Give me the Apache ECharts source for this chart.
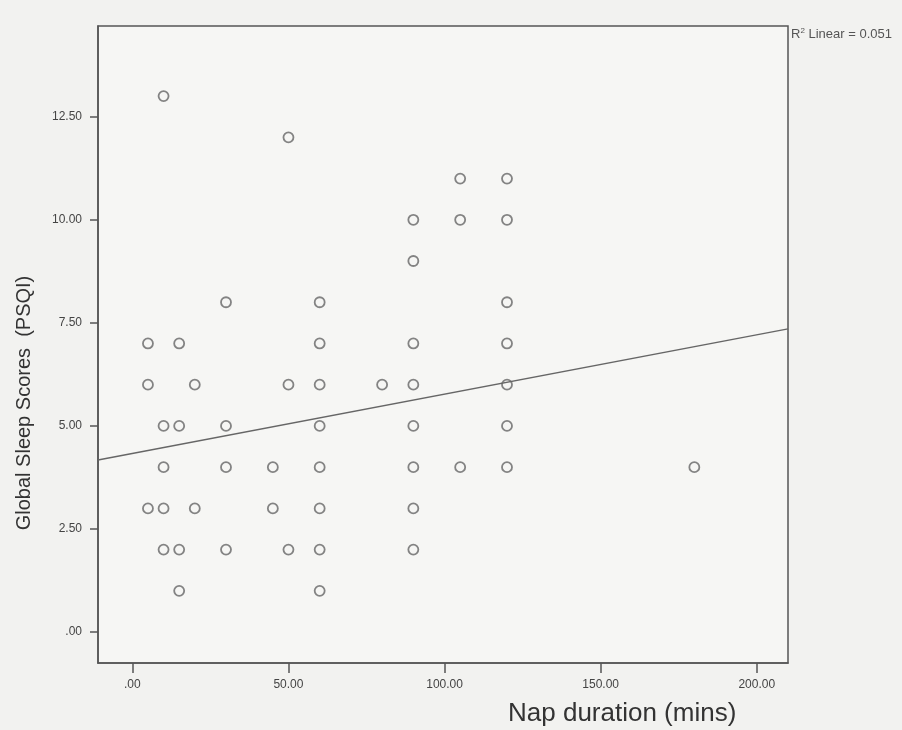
<!DOCTYPE html>
<html>
<head>
<meta charset="utf-8">
<script src="https://cdn.jsdelivr.net/npm/echarts@6/dist/echarts.min.js"></script>
<style>
  html, body { margin: 0; padding: 0; background: #f2f2f0; }
  #chart { width: 902px; height: 730px; }
</style>
</head>
<body>
<div id="chart"></div>
<script>
// nap duration (mins) and PSQI score, one entry per respondent
const napMins = [
  10,
  50,
  105, 120,
  90, 105, 120,
  90,
  30, 60, 120,
  5, 15, 60, 90, 120,
  5, 20, 50, 60, 80, 90, 120,
  10, 15, 30, 60, 90, 120,
  10, 30, 45, 60, 90, 105, 120, 180,
  5, 10, 20, 45, 60, 90,
  10, 15, 30, 50, 60, 90,
  15, 60
];
const psqiScores = [
  13,
  12,
  11, 11,
  10, 10, 10,
  9,
  8, 8, 8,
  7, 7, 7, 7, 7,
  6, 6, 6, 6, 6, 6, 6,
  5, 5, 5, 5, 5, 5,
  4, 4, 4, 4, 4, 4, 4, 4,
  3, 3, 3, 3, 3, 3,
  2, 2, 2, 2, 2, 2,
  1, 1
];
const xTicks = [0, 50, 100, 150, 200];
const yTicks = [0, 2.5, 5, 7.5, 10, 12.5];

// fitted linear line
const fitIntercept = 4.33;
const fitSlope = 0.0144;
const xMin = -11, xMax = 210;
const yMin = -0.75, yMax = 14.7;

const fmt = v => (v === 0 ? '.00' : v.toFixed(2));
const points = napMins.map((x, i) => [x, psqiScores[i]]);
const fitLine = [xMin, xMax].map(x => [x, fitIntercept + fitSlope * x]);

const axisColor = '#555';
const font = 'Liberation Sans, Arial, sans-serif';
const chart = echarts.init(document.getElementById('chart'));
chart.setOption({
  backgroundColor: '#f2f2f0',
  animation: false,
  textStyle: { fontFamily: font },
  grid: {
    left: 98, top: 26, right: 114, bottom: 67,
    outerBoundsMode: 'none', containLabel: false,
    show: true, backgroundColor: '#f6f6f4',
    borderColor: axisColor, borderWidth: 1.5
  },
  xAxis: {
    type: 'value', min: xMin, max: xMax,
    axisLine: { show: true, onZero: false, lineStyle: { color: axisColor, width: 1.5 } },
    axisTick: { show: true, length: 10, customValues: xTicks, lineStyle: { color: axisColor, width: 1.5 } },
    axisLabel: { customValues: xTicks, formatter: fmt, fontSize: 12, color: '#444', margin: 16 },
    splitLine: { show: false }
  },
  yAxis: {
    type: 'value', min: yMin, max: yMax,
    axisLine: { show: true, onZero: false, lineStyle: { color: axisColor, width: 1.5 } },
    axisTick: { show: true, length: 8, customValues: yTicks, lineStyle: { color: axisColor, width: 1.5 } },
    axisLabel: { customValues: yTicks, formatter: fmt, fontSize: 12, color: '#444', margin: 16 },
    splitLine: { show: false }
  },
  graphic: [
    {
      type: 'text', x: 24, y: 403, rotation: Math.PI / 2,
      style: {
        text: 'Global Sleep Scores  (PSQI)', fontSize: 20, fill: '#333',
        fontFamily: font, align: 'center', verticalAlign: 'middle'
      }
    },
    {
      type: 'text', left: 508, top: 701,
      style: { text: 'Nap duration (mins)', fontSize: 26, fill: '#333', fontFamily: font }
    },
    {
      type: 'text', left: 791, top: 27,
      style: {
        text: '{b|R}{s|2}{b| Linear = 0.051}',
        rich: {
          b: { fontSize: 13, fill: '#555', fontFamily: font },
          s: { fontSize: 8, fill: '#555', verticalAlign: 'top', padding: [0, 0, 6, 0] }
        }
      }
    }
  ],
  series: [
    {
      type: 'scatter', data: points, symbol: 'circle', symbolSize: 10,
      itemStyle: { color: 'rgba(0,0,0,0)', borderColor: '#666', borderWidth: 1.8 },
      z: 3
    },
    {
      type: 'line', data: fitLine, showSymbol: false, symbol: 'none',
      lineStyle: { color: '#666', width: 1.5 }, z: 2
    }
  ]
});
</script>
</body>
</html>
